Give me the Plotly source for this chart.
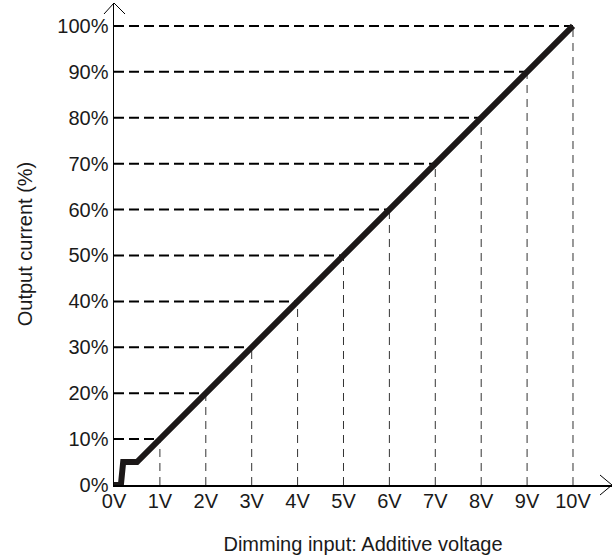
import plotly.graph_objects as go

# Data
volts = [1, 2, 3, 4, 5, 6, 7, 8, 9, 10]
current_pct = [10, 20, 30, 40, 50, 60, 70, 80, 90, 100]
curve_x = [0, 0.15, 0.2, 0.5, 10]
curve_y = [0, 0, 5, 5, 100]
x_tick_vals = [0, 1, 2, 3, 4, 5, 6, 7, 8, 9, 10]
x_tick_text = ["0V", "1V", "2V", "3V", "4V", "5V", "6V", "7V", "8V", "9V", "10V"]
y_tick_vals = [0, 10, 20, 30, 40, 50, 60, 70, 80, 90, 100]
y_tick_text = ["0%", "10%", "20%", "30%", "40%", "50%", "60%", "70%", "80%", "90%", "100%"]

FONT = "Liberation Sans Narrow, Arial Narrow, Liberation Sans, Arial, sans-serif"

fig = go.Figure()

# horizontal dashed guides (from y axis to curve)
hx, hy = [], []
for v, c in zip(volts, current_pct):
    hx += [0, v, None]
    hy += [c, c, None]
fig.add_trace(go.Scatter(x=hx, y=hy, mode="lines",
                         line=dict(color="#000000", width=2, dash="10px,5px"),
                         hoverinfo="skip", showlegend=False))

# vertical dashed guides (from curve to x axis)
vx, vy = [], []
for v, c in zip(volts, current_pct):
    vx += [v, v, None]
    vy += [0, c, None]
fig.add_trace(go.Scatter(x=vx, y=vy, mode="lines",
                         line=dict(color="#333333", width=1, dash="8px,6px"),
                         hoverinfo="skip", showlegend=False))

# main curve
fig.add_trace(go.Scatter(x=curve_x, y=curve_y, mode="lines",
                         line=dict(color="#1c1818", width=6),
                         hoverinfo="skip", showlegend=False))

W, H = 498.0, 482.0
# arrowheads (paper coordinates)
fig.add_shape(type="path", xref="paper", yref="paper",
              path=f"M {-10/W} {1-11/H} L 0 1 L {11/W} {1-11/H}",
              line=dict(color="black", width=1))
fig.add_shape(type="path", xref="paper", yref="paper",
              path=f"M {1-12/W} {10/H} L 1 0 L {1-12/W} {-10/H}",
              line=dict(color="black", width=1))

fig.update_layout(
    width=614, height=560,
    margin=dict(l=114, r=2, t=3, b=75),
    paper_bgcolor="white", plot_bgcolor="white",
    font=dict(family=FONT, size=20, color="#1a1a1a"),
    xaxis=dict(range=[0, 10.85], showgrid=False, zeroline=False,
               showline=True, linecolor="black", linewidth=1.5,
               tickvals=x_tick_vals, ticktext=x_tick_text, ticks="",
               automargin=False, ticklabelstandoff=-3,
               title=dict(text="Dimming input: Additive voltage",
                          font=dict(size=20), standoff=26)),
    yaxis=dict(range=[0, 105], showgrid=False, zeroline=False,
               showline=True, linecolor="black", linewidth=1.5,
               tickvals=y_tick_vals, ticktext=y_tick_text, ticks="",
               automargin=False,
               title=dict(text="Output current (%)", font=dict(size=20),
                          standoff=19)),
)

fig.write_html("out.html",
               config={"displayModeBar": False, "staticPlot": True},
               post_script="document.body.style.margin='0px';document.body.style.padding='0px';")
